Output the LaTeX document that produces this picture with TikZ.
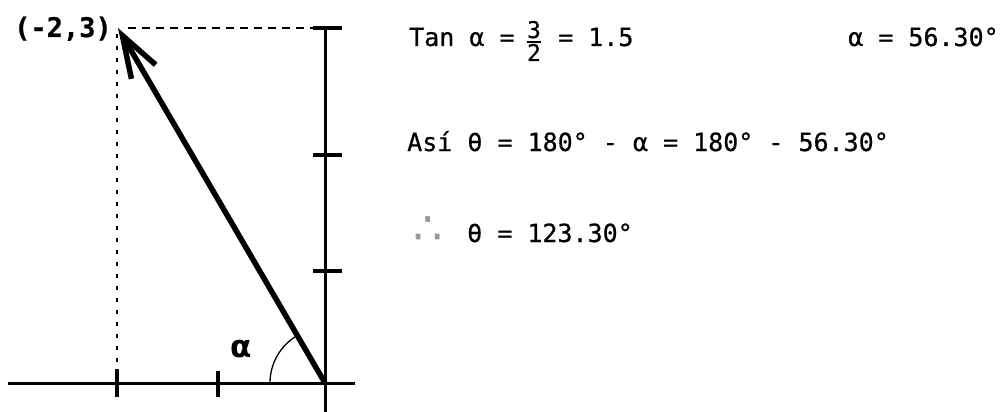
\documentclass[tikz,border=0pt]{standalone}
\usepackage{fontspec}
\newfontfamily\tw[FakeBold=0.6]{DejaVu Sans Mono}
\newfontfamily\dvs{DejaVu Sans}
\usetikzlibrary{arrows.meta}
\begin{document}
\begin{tikzpicture}[x=1pt,y=-1pt,
  axis/.style={line width=3pt},
  tickmark/.style={line width=3.2pt},
  hguide/.style={line width=1.3pt,dash pattern=on 8pt off 6pt},
  vguide/.style={line width=1.3pt,dash pattern=on 4pt off 8pt},
  vec/.style={line width=5.5pt,-{Straight Barb[length=42pt,width=28pt]}},
  txt/.style={inner sep=0pt,anchor=base west,font=\tw\fontsize{25}{29}\selectfont},
  frc/.style={inner sep=0pt,anchor=base,font=\tw\fontsize{23}{27}\selectfont}]
\useasboundingbox (0,0) rectangle (1002,412);
% key points
\coordinate (O) at (325,383);
\coordinate (P) at (118,28);
\coordinate (xl) at (8,383);
\coordinate (xr) at (355,383);
\coordinate (yt) at (325,28);
\coordinate (yb) at (325,412);
% axes
\draw[axis] (xl) -- (xr);
\draw[axis] (yt) -- (yb);
% ticks
\draw[tickmark] (313,28) -- (342,28);
\draw[tickmark] (313,155) -- (342,155);
\draw[tickmark] (313,271) -- (342,271);
\draw[tickmark] (117,369) -- (117,397);
\draw[tickmark] (218,371) -- (218,397);
% guides
\draw[hguide] (128,28) -- (313,28);
\draw[vguide] (117,34) -- (117,366);
% vector
\draw[vec] (O) -- (P);
% angle arc
\draw[line width=1.3pt] (270,383) arc[start angle=180,end angle=239.7,radius=55];
\node[inner sep=0pt,font=\dvs\bfseries\fontsize{31}{36}\selectfont] (al) at (241,349) {α};
\node[inner sep=0pt,anchor=base west,font=\tw\bfseries\fontsize{27}{32}\selectfont] (pl) at (14,37) {(-2,3)};
% text
\node[txt] (l1a) at (409,46) {Tan α =};
\node[frc] (f3) at (534,38) {3};
\node[frc] (f2) at (534,61) {2};
\draw[line width=1.3pt] (527,42) -- (541,42);
\node[txt] (l1b) at (558,46) {= 1.5};
\node[txt] (l1c) at (848,46) {α = 56.30°};
\node[txt] (l2) at (407,151) {Así θ = 180° - α = 180° - 56.30°};
\node[inner sep=0pt,text=black!40,font=\dvs\fontsize{46}{52}\selectfont] (th) at (428,231) {∴};
\node[txt] (l3) at (467,242) {θ = 123.30°};
\end{tikzpicture}
\end{document}
